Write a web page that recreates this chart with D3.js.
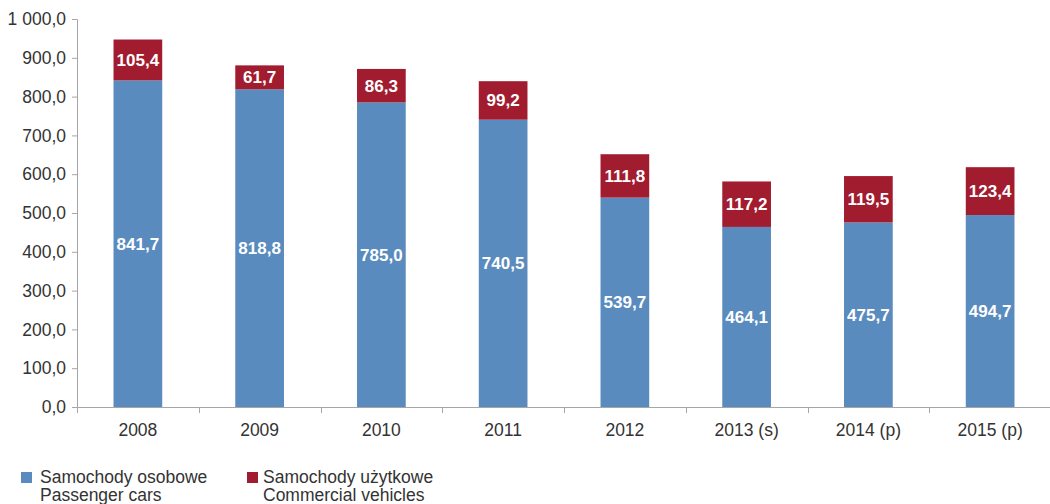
<!DOCTYPE html>
<html>
<head>
<meta charset="utf-8">
<script src="https://cdn.jsdelivr.net/npm/d3@7"></script>
<style>
  html, body { margin: 0; padding: 0; background: #fff; }
  svg { display: block; font-family: "Liberation Sans", Arial, sans-serif; }
</style>
</head>
<body>
<svg id="chart" width="1050" height="504"></svg>
<script>
// Sales of new vehicles (thousand units)
const years = ["2008", "2009", "2010", "2011", "2012", "2013 (s)", "2014 (p)", "2015 (p)"];
const passengerCars = [841.7, 818.8, 785.0, 740.5, 539.7, 464.1, 475.7, 494.7];
const commercialVehicles = [105.4, 61.7, 86.3, 99.2, 111.8, 117.2, 119.5, 123.4];
const yTicks = [0, 100, 200, 300, 400, 500, 600, 700, 800, 900, 1000];
const seriesNames = [
  ["Samochody osobowe", "Passenger cars"],
  ["Samochody użytkowe", "Commercial vehicles"]
];
const colors = ["#5a8bbe", "#a21c30"];

const svg = d3.select("#chart");
const W = 1050;
const left = 77;
const textSize = 17.5;

const x = d3.scaleBand().domain(years).range([left, 1051]).paddingInner(0.6).paddingOuter(0.3);
const y = d3.scaleLinear().domain([0, 1000]).range([407, 19]);

const fmt = v => {
  const s = d3.format(",.1f")(v);
  return s.replace(/,/g, " ").replace(".", ",");
};

// Y axis
const yAxis = svg.append("g")
  .attr("transform", `translate(${left},0)`)
  .call(d3.axisLeft(y).tickValues(yTicks).tickSize(5).tickPadding(6).tickFormat(fmt));
yAxis.select(".domain").attr("stroke", "#a6a6a6");
yAxis.selectAll(".tick line").attr("stroke", "#a6a6a6");
yAxis.selectAll(".tick text").attr("fill", "#333").attr("font-size", textSize);

// X axis with ticks at band boundaries
const xAxisG = svg.append("g").attr("transform", `translate(0,${y(0)})`);
xAxisG.append("line")
  .attr("x1", left).attr("x2", W)
  .attr("y1", 0.5).attr("y2", 0.5)
  .attr("stroke", "#a6a6a6");
const step = x.step();
const boundaries = d3.range(years.length + 1).map(i => x(years[0]) - x.paddingOuter() * step + i * step);
xAxisG.selectAll(".btick").data(boundaries).join("line")
  .attr("x1", d => Math.round(d) + 0.5).attr("x2", d => Math.round(d) + 0.5)
  .attr("y1", 0).attr("y2", 6)
  .attr("stroke", "#a6a6a6");
xAxisG.selectAll(".xlabel").data(years).join("text")
  .attr("x", d => x(d) + x.bandwidth() / 2)
  .attr("y", 29)
  .attr("text-anchor", "middle")
  .attr("fill", "#333")
  .attr("font-size", textSize)
  .text(d => d);

// Stacked bars
const rows = years.map((yr, i) => ({ year: yr, pc: passengerCars[i], cv: commercialVehicles[i] }));
const stack = d3.stack().keys(["pc", "cv"])(rows);

const layers = svg.append("g").selectAll("g").data(stack).join("g")
  .attr("fill", (d, i) => colors[i]);
layers.selectAll("rect").data(d => d).join("rect")
  .attr("x", d => x(d.data.year))
  .attr("width", x.bandwidth())
  .attr("y", d => y(d[1]))
  .attr("height", d => y(d[0]) - y(d[1]));

// Value labels centred in each segment
const labels = svg.append("g");
stack.forEach(layer => {
  labels.selectAll(null).data(layer).join("text")
    .attr("x", d => x(d.data.year) + x.bandwidth() / 2)
    .attr("y", d => (y(d[0]) + y(d[1])) / 2)
    .attr("dy", "0.35em")
    .attr("text-anchor", "middle")
    .attr("fill", "#fff")
    .attr("font-weight", "bold")
    .attr("font-size", 17)
    .text(d => fmt(d[1] - d[0]));
});

// Legend
const legend = svg.append("g");
const legendX = [21, 247];
const legendTextDx = [19, 16];
seriesNames.forEach((names, i) => {
  const g = legend.append("g").attr("transform", `translate(${legendX[i]},472)`);
  g.append("rect").attr("width", 11).attr("height", 11).attr("fill", colors[i]);
  g.append("text").attr("x", legendTextDx[i]).attr("y", 11).attr("fill", "#333").attr("font-size", textSize).text(names[0]);
  g.append("text").attr("x", legendTextDx[i]).attr("y", 29).attr("fill", "#333").attr("font-size", textSize).text(names[1]);
});
</script>
</body>
</html>
